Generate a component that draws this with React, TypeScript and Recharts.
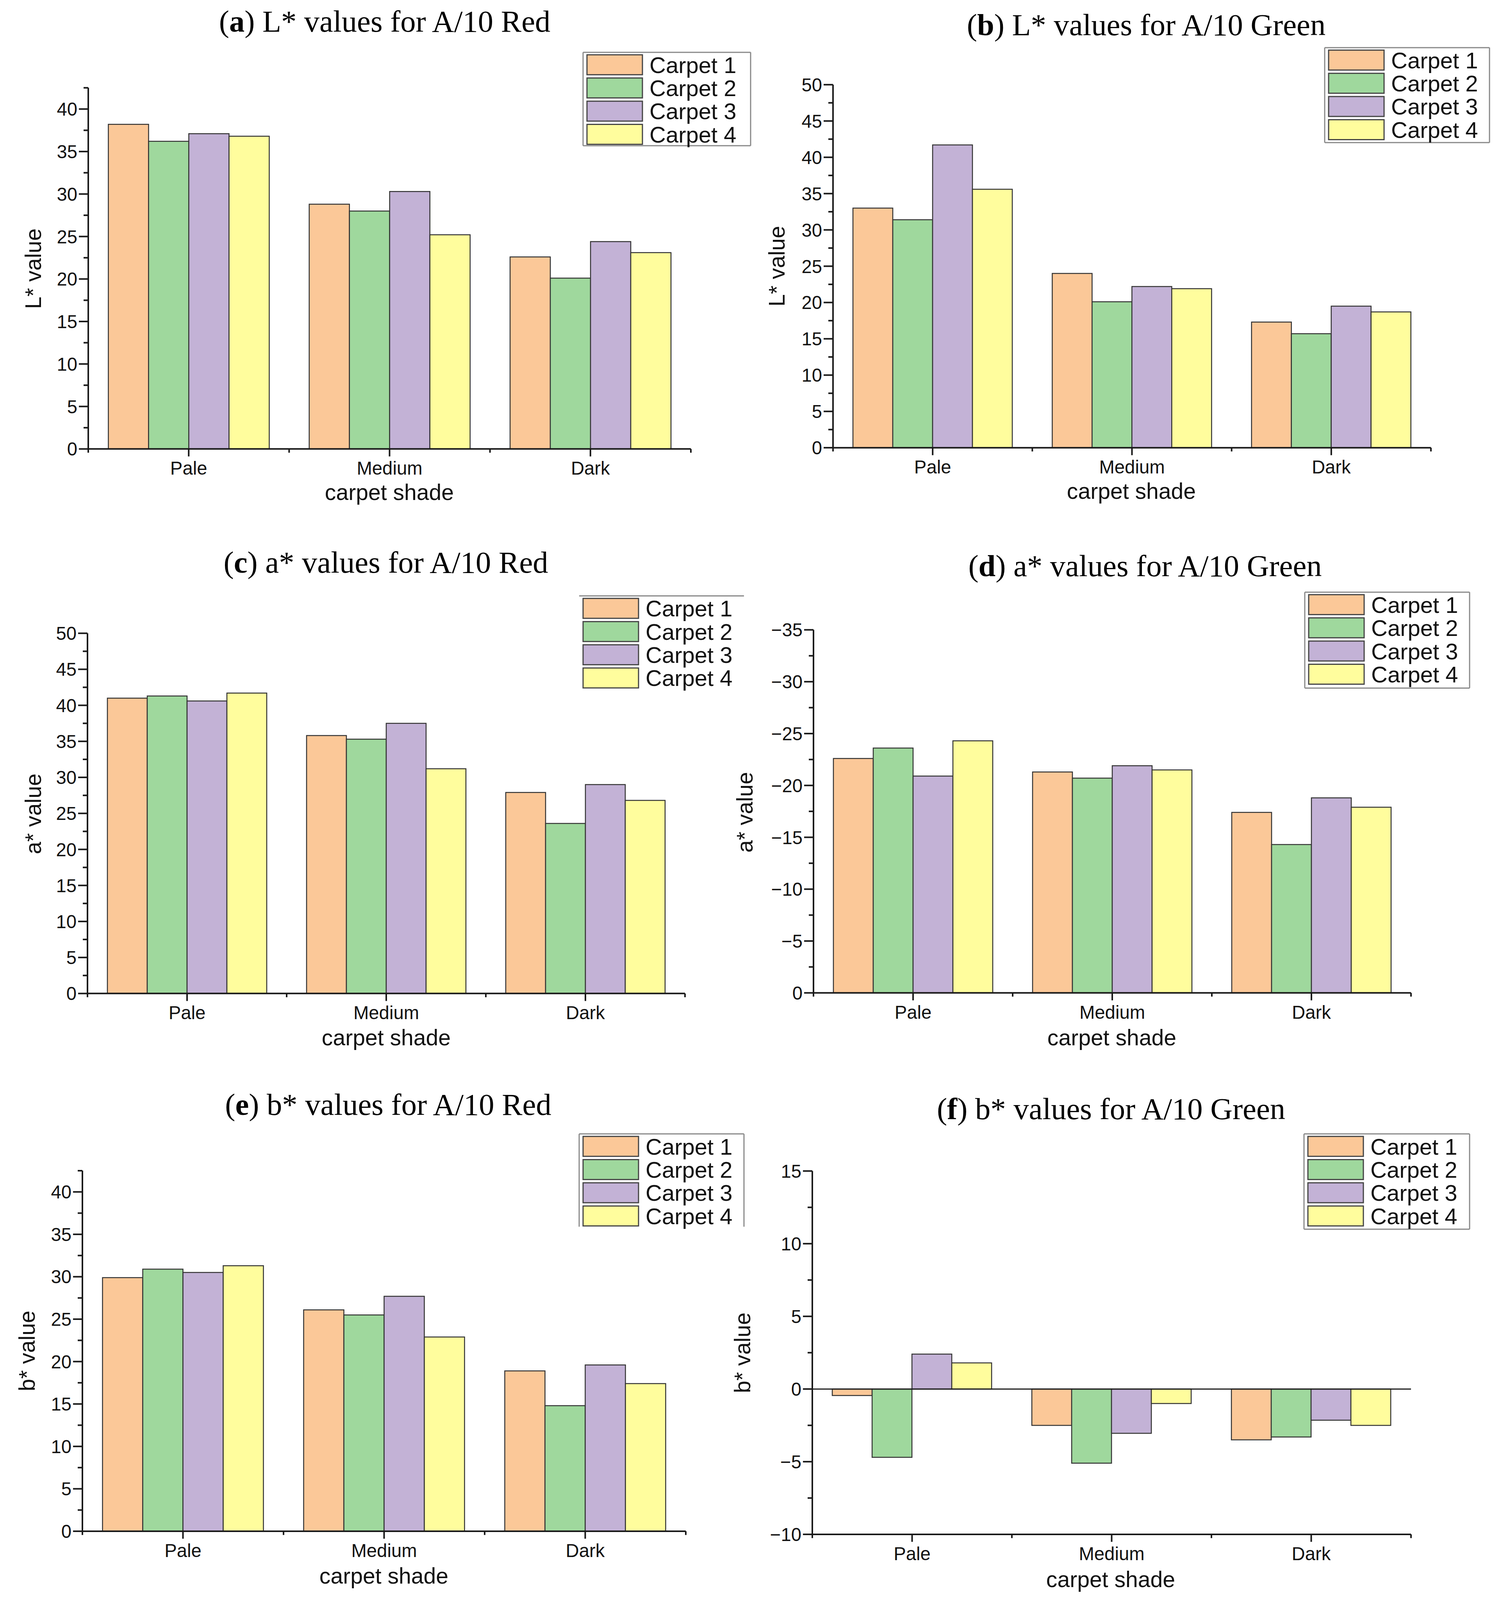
import React from 'react';
import { BarChart, Bar, XAxis, YAxis, ReferenceLine } from 'recharts';

const shades = ['Pale', 'Medium', 'Dark'];
const carpets = ['Carpet 1', 'Carpet 2', 'Carpet 3', 'Carpet 4'];
const carpetColors = ['#fbc898', '#9fd89d', '#c3b2d6', '#fffd9d'];

// rows: Carpet 1..4, columns: Pale, Medium, Dark
const lRed = [
  [38.2, 28.8, 22.6],
  [36.2, 28.0, 20.1],
  [37.1, 30.3, 24.4],
  [36.8, 25.2, 23.1],
];
const lGreen = [
  [33.0, 24.0, 17.3],
  [31.4, 20.1, 15.7],
  [41.7, 22.2, 19.5],
  [35.6, 21.9, 18.7],
];
const aRed = [
  [41.0, 35.8, 27.9],
  [41.3, 35.3, 23.6],
  [40.6, 37.5, 29.0],
  [41.7, 31.2, 26.8],
];
const aGreen = [
  [-22.6, -21.3, -17.4],
  [-23.6, -20.7, -14.3],
  [-20.9, -21.9, -18.8],
  [-24.3, -21.5, -17.9],
];
const bRed = [
  [29.9, 26.1, 18.9],
  [30.9, 25.5, 14.8],
  [30.5, 27.7, 19.6],
  [31.3, 22.9, 17.4],
];
const bGreen = [
  [-0.45, -2.5, -3.5],
  [-4.7, -5.1, -3.3],
  [2.4, -3.05, -2.15],
  [1.8, -1.0, -2.5],
];

const lRedTicks = [0, 5, 10, 15, 20, 25, 30, 35, 40];
const lGreenTicks = [0, 5, 10, 15, 20, 25, 30, 35, 40, 45, 50];
const aRedTicks = [0, 5, 10, 15, 20, 25, 30, 35, 40, 45, 50];
const aGreenTicks = [-35, -30, -25, -20, -15, -10, -5, 0];
const bRedTicks = [0, 5, 10, 15, 20, 25, 30, 35, 40];
const bGreenTicks = [-10, -5, 0, 5, 10, 15];

const AXIS = '#1a1a1a';
const TEXT = '#111';
const SANS = '"Liberation Sans", Arial, sans-serif';
const SERIF = '"Liberation Serif", "Times New Roman", serif';

// the figure is laid out on a 3846 x 5139 sheet; if the window is shorter,
// the vertical layout is squeezed so every panel stays in view
const PAGE_W = 3846;
const PAGE_H = 5139;
const k = typeof window !== 'undefined' && window.innerHeight > 0 ? Math.min(1, window.innerHeight / PAGE_H) : 1;
const fs = Math.sqrt(k);
const Y = (v: number) => v * k;

const TICK_FONT = 53 * fs;
const LEGEND_FONT = 65 * fs;
const LABEL_FONT = 64 * fs;
const TITLE_FONT = 88 * fs;

type Panel = {
  letter: string;
  title: string;
  yLabel: string;
  values: number[][];
  ticks: number[];
  domain: [number, number];
  reversed?: boolean;
  zeroLine?: boolean;
  px: number; py: number; w: number; h: number;
  x0: number; x1: number; y0: number; y1: number;
  titleX: number; titleY: number;
  yLabelX: number; yLabelY: number;
  xLabelX: number; xLabelY: number;
  legend: { x: number; y: number; w: number; h: number; sides: string };
};

const panels: Panel[] = [
  {
    letter: 'a', title: ') L* values for A/10 Red', yLabel: 'L* value', values: lRed,
    ticks: lRedTicks, domain: [0, 42.5],
    px: 0, py: 0, w: 1923, h: 1690, x0: 226, x1: 1769, y0: 282, y1: 1442,
    titleX: 985, titleY: 101, yLabelX: 84, yLabelY: 863, xLabelX: 997, xLabelY: 1606,
    legend: { x: 1493, y: 168, w: 429, h: 300, sides: 'trbl' },
  },
  {
    letter: 'b', title: ') L* values for A/10 Green', yLabel: 'L* value', values: lGreen,
    ticks: lGreenTicks, domain: [0, 50],
    px: 1923, py: 0, w: 1923, h: 1690, x0: 2133, x1: 3664, y0: 272, y1: 1438,
    titleX: 2935, titleY: 113, yLabelX: 1988, yLabelY: 855, xLabelX: 2897, xLabelY: 1602,
    legend: { x: 3392, y: 153, w: 422, h: 305, sides: 'trbl' },
  },
  {
    letter: 'c', title: ') a* values for A/10 Red', yLabel: 'a* value', values: aRed,
    ticks: aRedTicks, domain: [0, 50],
    px: 0, py: 1690, w: 1923, h: 1730, x0: 224, x1: 1754, y0: 2034, y1: 3191,
    titleX: 988, titleY: 1839, yLabelX: 84, yLabelY: 2614, xLabelX: 989, xLabelY: 3358,
    legend: { x: 1483, y: 1914, w: 422, h: 300, sides: 't' },
  },
  {
    letter: 'd', title: ') a* values for A/10 Green', yLabel: 'a* value', values: aGreen,
    ticks: aGreenTicks, domain: [-35, 0], reversed: true,
    px: 1923, py: 1690, w: 1923, h: 1730, x0: 2083, x1: 3613, y0: 2023, y1: 3189,
    titleX: 2932, titleY: 1851, yLabelX: 1906, yLabelY: 2609, xLabelX: 2847, xLabelY: 3357,
    legend: { x: 3341, y: 1902, w: 422, h: 308, sides: 'trbl' },
  },
  {
    letter: 'e', title: ') b* values for A/10 Red', yLabel: 'b* value', values: bRed,
    ticks: bRedTicks, domain: [0, 42.5],
    px: 0, py: 3420, w: 1923, h: 1719, x0: 211, x1: 1756, y0: 3760, y1: 4918,
    titleX: 994, titleY: 3581, yLabelX: 68, yLabelY: 4339, xLabelX: 983, xLabelY: 5086,
    legend: { x: 1483, y: 3642, w: 422, h: 298, sides: 'trl' },
  },
  {
    letter: 'f', title: ') b* values for A/10 Green', yLabel: 'b* value', values: bGreen,
    ticks: bGreenTicks, domain: [-10, 15], zeroLine: true,
    px: 1923, py: 3420, w: 1923, h: 1719, x0: 2080, x1: 3613, y0: 3761, y1: 4928,
    titleX: 2845, titleY: 3595, yLabelX: 1900, yLabelY: 4345, xLabelX: 2844, xLabelY: 5097,
    legend: { x: 3339, y: 3642, w: 424, h: 306, sides: 'trbl' },
  },
];

const fmt = (v: number) => (v < 0 ? '\u2212' + Math.abs(v) : String(v));

function allTicks(domain: [number, number]) {
  const out: number[] = [];
  for (let v = domain[0]; v <= domain[1] + 1e-9; v += 2.5) out.push(Math.round(v * 10) / 10);
  return out;
}

function YTick(props: any) {
  const { x, y, payload, majors } = props;
  const major = majors.includes(payload.value);
  return (
    <g>
      <line x1={x - (major ? 24 : 12)} x2={x} y1={y} y2={y} stroke={AXIS} strokeWidth={4} />
      {major && (
        <text x={x - 28} y={y} dy="0.36em" textAnchor="end" fontFamily={SANS} fontSize={TICK_FONT} fill={TEXT}>
          {fmt(payload.value)}
        </text>
      )}
    </g>
  );
}

function XTick(props: any) {
  const { x, y, payload, index, band } = props;
  const major = 24 * k;
  const minor = 12 * k;
  return (
    <g>
      <line x1={x} x2={x} y1={y} y2={y + major} stroke={AXIS} strokeWidth={4} />
      <line x1={x - band / 2} x2={x - band / 2} y1={y} y2={y + minor} stroke={AXIS} strokeWidth={4} />
      {index === shades.length - 1 && (
        <line x1={x + band / 2} x2={x + band / 2} y1={y} y2={y + minor} stroke={AXIS} strokeWidth={4} />
      )}
      <text x={x} y={y + 40 * k + 0.72 * TICK_FONT} textAnchor="middle" fontFamily={SANS} fontSize={TICK_FONT} fill={TEXT}>
        {payload.value}
      </text>
    </g>
  );
}

function PanelChart({ p }: { p: Panel }) {
  const data = shades.map((shade, i) => ({
    shade,
    c1: p.values[0][i],
    c2: p.values[1][i],
    c3: p.values[2][i],
    c4: p.values[3][i],
  }));
  const xAxisHeight = 100 * k;
  const band = (p.x1 - p.x0) / shades.length;
  return (
    <div style={{ position: 'absolute', left: p.px, top: Y(p.py) }}>
      <BarChart
        width={p.w}
        height={Y(p.h)}
        data={data}
        barCategoryGap="10%"
        barGap={0}
        margin={{
          top: Y(p.y0 - p.py),
          right: p.px + p.w - p.x1,
          left: 0,
          bottom: Y(p.py + p.h - p.y1) - xAxisHeight,
        }}
      >
        <XAxis
          dataKey="shade"
          height={xAxisHeight}
          interval={0}
          tickSize={0}
          tickMargin={0}
          tickLine={false}
          axisLine={{ stroke: AXIS, strokeWidth: 4 }}
          tick={(t: any) => <XTick {...t} band={band} />}
        />
        <YAxis
          type="number"
          width={p.x0 - p.px}
          domain={p.domain}
          ticks={allTicks(p.domain)}
          interval={0}
          reversed={p.reversed}
          allowDataOverflow
          tickSize={0}
          tickMargin={0}
          tickLine={false}
          axisLine={{ stroke: AXIS, strokeWidth: 4 }}
          tick={(t: any) => <YTick {...t} majors={p.ticks} />}
        />
        {p.zeroLine && <ReferenceLine y={0} stroke={AXIS} strokeWidth={3} />}
        {carpets.map((name, i) => (
          <Bar
            key={name}
            name={name}
            dataKey={'c' + (i + 1)}
            fill={carpetColors[i]}
            stroke="#333"
            strokeWidth={2.5}
            isAnimationActive={false}
          />
        ))}
      </BarChart>
    </div>
  );
}

function LegendBox({ l }: { l: Panel['legend'] }) {
  const { x, w, sides } = l;
  const y = Y(l.y);
  const h = Y(l.h);
  const pitch = Y(74.5);
  const swatchH = Y(64);
  const border = { stroke: '#888', strokeWidth: 3 };
  return (
    <g>
      {sides.includes('t') && <line x1={x} x2={x + w} y1={y} y2={y} {...border} />}
      {sides.includes('b') && <line x1={x} x2={x + w} y1={y + h} y2={y + h} {...border} />}
      {sides.includes('l') && <line x1={x} x2={x} y1={y} y2={y + h} {...border} />}
      {sides.includes('r') && <line x1={x + w} x2={x + w} y1={y} y2={y + h} {...border} />}
      {carpets.map((name, i) => {
        const top = y + Y(8) + i * pitch;
        return (
          <g key={name}>
            <rect x={x + 10} y={top} width={142} height={swatchH} fill={carpetColors[i]} stroke="#444" strokeWidth={3} />
            <text
              x={x + 170}
              y={top + swatchH / 2}
              dy="0.36em"
              fontFamily={SANS}
              fontSize={LEGEND_FONT}
              fill={TEXT}
            >
              {name}
            </text>
          </g>
        );
      })}
    </g>
  );
}

export default function App() {
  return (
    <div
      style={{
        position: 'relative',
        margin: -8,
        width: PAGE_W,
        height: Y(PAGE_H),
        background: '#fff',
        overflow: 'hidden',
      }}
    >
      {panels.map((p) => (
        <PanelChart key={p.letter} p={p} />
      ))}
      <svg
        width={PAGE_W}
        height={Y(PAGE_H)}
        style={{ position: 'absolute', left: 0, top: 0, pointerEvents: 'none' }}
      >
        {panels.map((p) => (
          <g key={p.letter}>
            <text x={p.titleX} y={Y(p.titleY)} textAnchor="middle" fontFamily={SERIF} fontSize={TITLE_FONT} fill="#000">
              <tspan>(</tspan>
              <tspan fontWeight="bold">{p.letter}</tspan>
              <tspan>{p.title}</tspan>
            </text>
            <text
              x={p.yLabelX}
              y={Y(p.yLabelY)}
              textAnchor="middle"
              dy="0.36em"
              transform={`rotate(-90 ${p.yLabelX} ${Y(p.yLabelY)})`}
              fontFamily={SANS}
              fontSize={LABEL_FONT}
              fill={TEXT}
            >
              {p.yLabel}
            </text>
            <text x={p.xLabelX} y={Y(p.xLabelY)} textAnchor="middle" fontFamily={SANS} fontSize={LABEL_FONT} fill={TEXT}>
              carpet shade
            </text>
            <LegendBox l={p.legend} />
          </g>
        ))}
      </svg>
    </div>
  );
}
